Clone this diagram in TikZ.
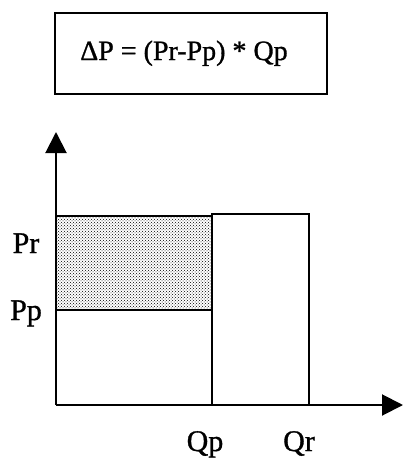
\documentclass[tikz,border=0pt]{standalone}
\usepackage{fontspec}
\setmainfont{Liberation Serif}[FakeBold=1]
\usetikzlibrary{arrows.meta,patterns}
\tikzset{
  thickline/.style={line width=2pt},
  axisline/.style={line width=2pt,-{Triangle[length=21pt,width=21pt]}},
  lbl/.style={font=\fontsize{30}{34}\selectfont,inner sep=0pt,anchor=base},
  formulabox/.style={draw,line width=2pt,minimum width=272pt,minimum height=81pt,inner sep=0pt}
}
\begin{document}
\begin{tikzpicture}[x=1pt,y=-1pt]
\useasboundingbox (0,0) rectangle (403,461);
\node[formulabox] (f) at (191,53.5) {};
\node[font=\fontsize{28}{30}\selectfont,inner sep=0pt,anchor=base] (ftext) at (184,60) {ΔP = (Pr-Pp) * Qp};
% key points
\coordinate (O) at (56,405);
\coordinate (ytip) at (56,132);
\coordinate (xtip) at (403,405);
\coordinate (pr0) at (56,216);
\coordinate (pr1) at (212,216);
\coordinate (pp0) at (56,310);
\coordinate (pp1) at (212,310);
\coordinate (qp0) at (212,405);
\coordinate (qpt) at (212,214);
\coordinate (qrt) at (309,214);
\coordinate (qr0) at (309,405);
% shaded area
\fill[pattern=crosshatch dots,pattern color=black] (pr0) rectangle (pp1);
\draw[thickline] (pr0) -- (pr1) -- (qp0);
\draw[thickline] (pp0) -- (pp1);
\draw[thickline] (qp0) -- (qpt) -- (qrt) -- (qr0);
% axes
\draw[axisline] (O) -- (ytip);
\draw[axisline] (O) -- (xtip);
% labels
\node[lbl] (lpr) at (26,253) {Pr};
\node[lbl] (lpp) at (26,320) {Pp};
\node[lbl] (lqp) at (205,451) {Qp};
\node[lbl] (lqr) at (299,451) {Qr};
\end{tikzpicture}
\end{document}
